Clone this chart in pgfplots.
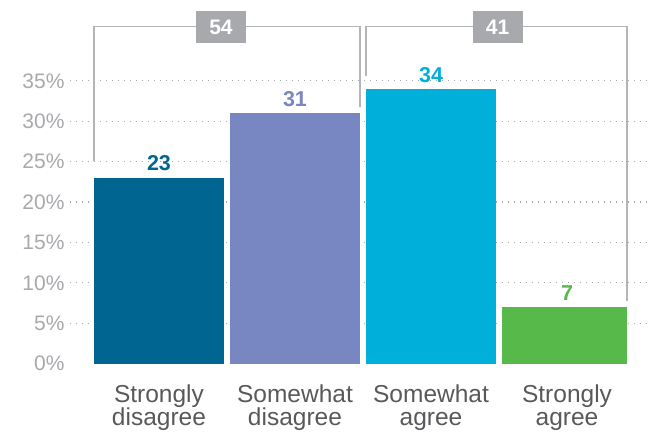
\documentclass[border=0pt]{standalone}
\usepackage{pgfplots}
\pgfplotsset{compat=1.18}
\usepackage{fontspec}
\setmainfont{Liberation Sans}
\definecolor{cA}{HTML}{006591}
\definecolor{cB}{HTML}{7886C1}
\definecolor{cC}{HTML}{00B0DB}
\definecolor{cD}{HTML}{56B949}
\definecolor{tickgray}{HTML}{A7A9AC}
\definecolor{labgray}{HTML}{58595B}
\definecolor{brgray}{HTML}{B3B5B8}
\definecolor{boxgray}{HTML}{A7A9AC}
\begin{document}
\begin{tikzpicture}
\begin{axis}[
  scale only axis,
  width=580pt, height=363.6pt,
  xmin=-0.654, xmax=3.61,
  ymin=0, ymax=45,
  clip=false,
  axis line style={draw=none},
  major tick length=0pt,
  /pgf/number format/assume math mode=true,
  ytick={5,10,...,35},
  yticklabels={5\%,10\%,15\%,20\%,25\%,30\%,35\%},
  extra y ticks={0},
  extra y tick labels={0\%},
  extra y tick style={ymajorgrids=false},
  ymajorgrids,
  y grid style={tickgray, line width=1.3pt, dash pattern=on 1.3pt off 4.7pt},
  yticklabel style={font=\fontsize{21}{21}\selectfont, text=tickgray, xshift=-2pt},
  xtick={0,1,2,3},
  xticklabels={Strongly\\disagree, Somewhat\\disagree, Somewhat\\agree, Strongly\\agree},
  xticklabel style={font=\fontsize{24.5}{23}\selectfont, text=labgray, align=center, yshift=-18pt},
  barstyle/.style={ybar, bar width=130pt, bar shift=0pt, draw=none,
    nodes near coords, nodes near coords style={font=\bfseries\fontsize{21.5}{21.5}\selectfont, yshift=3pt}},
]
\addplot[barstyle, fill=cA, nodes near coords style={text=cA}] coordinates {(0,23)};
\addplot[barstyle, fill=cB, nodes near coords style={text=cB}] coordinates {(1,31)};
\addplot[barstyle, fill=cC, nodes near coords style={text=cC}] coordinates {(2,34)};
\addplot[barstyle, bar width=125pt, bar shift=-2.5pt, fill=cD, nodes near coords style={text=cD}] coordinates {(3,7)};
\addplot[brgray, line width=1.5pt, mark=none]
  coordinates {(-0.478,25.1) (-0.478,41.7) (1.478,41.7) (1.478,31.8)};
\addplot[brgray, line width=1.5pt, mark=none]
  coordinates {(1.522,35.6) (1.522,41.7) (3.44,41.7) (3.44,7.8)};
\node[fill=boxgray, text=white, minimum width=50pt, minimum height=32pt, inner sep=0pt,
  font=\bfseries\fontsize{21}{21}\selectfont] at (axis cs:0.456,41.6) {54};
\node[fill=boxgray, text=white, minimum width=50pt, minimum height=32pt, inner sep=0pt,
  font=\bfseries\fontsize{21}{21}\selectfont] at (axis cs:2.49,41.6) {41};
\end{axis}
\pgfresetboundingbox
\path[use as bounding box] ([xshift=-70pt,yshift=-69pt]current axis.south west) rectangle (current axis.north east);
\end{tikzpicture}
\end{document}
